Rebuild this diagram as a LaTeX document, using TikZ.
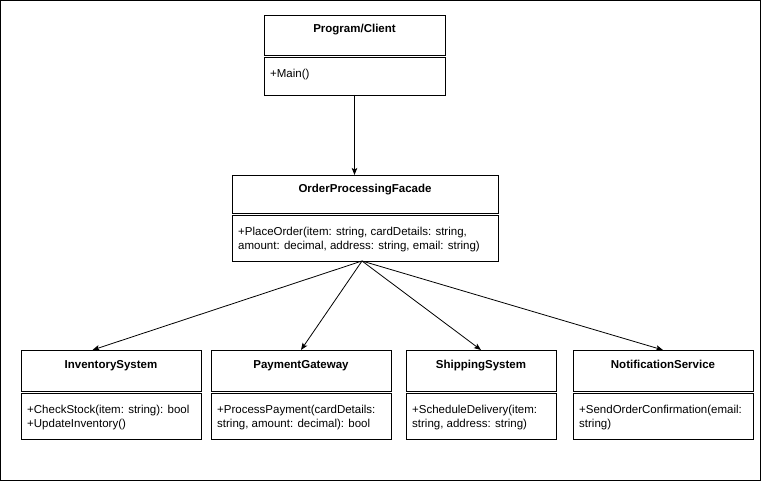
\documentclass[tikz,border=0pt]{standalone}
\usepackage{fontspec}
\setmainfont{Liberation Sans}
\usetikzlibrary{arrows.meta}
% class box: name, x, y, width, head height, body height, title, members
\newcommand{\umlclass}[8]{%
	\node[headbox, minimum width=#4, minimum height=#5] (#1) at (#2,#3) {};
	\node[classtitle] at ([yshift=-18pt]#1.north) {#7};
	\node[bodybox, minimum width=#4, minimum height=#6] (#1body) at ([yshift=-2pt]#1.south west) {};
	\node[member] at ([xshift=6pt, yshift=-11.5pt]#1body.north west) {#8};
}

\begin{document}
\begin{tikzpicture}[x=1pt, y=-1pt,
	 font=\fontsize{11.5}{14}\selectfont,
	 headbox/.style={draw, anchor=north west, inner sep=0pt, outer sep=0pt, line width=0.8pt},
	 bodybox/.style={draw, anchor=north west, inner sep=0pt, outer sep=0pt, line width=0.8pt},
	 classtitle/.style={anchor=base, inner sep=0pt, font=\fontsize{11.5}{14}\selectfont\bfseries},
	 member/.style={anchor=north west, align=left, inner sep=0pt},
	 link/.style={-{Stealth[length=7pt, width=5.5pt, inset=1.5pt]}, line width=0.8pt}]
	    \draw[line width=1pt] (0.5,0.5) rectangle (760.5,480.5);
	    \umlclass{client}{264}{15}{181pt}{40pt}{38pt}{Program/Client}{+Main()}
	    \umlclass{facade}{232}{175}{266pt}{38pt}{46pt}{OrderProcessingFacade}%
	        {+PlaceOrder(item: string, cardDetails: string,\\amount: decimal, address: string, email: string)}
	    \umlclass{inventory}{21}{350}{180pt}{41pt}{46pt}{InventorySystem}%
	        {+CheckStock(item: string): bool\\+UpdateInventory()}
	    \umlclass{payment}{211}{350}{180pt}{41pt}{46pt}{PaymentGateway}%
	        {+ProcessPayment(cardDetails:\\string, amount: decimal): bool}
	    \umlclass{shipping}{406}{350}{150pt}{41pt}{46pt}{ShippingSystem}%
	        {+ScheduleDelivery(item:\\string, address: string)}
	    \umlclass{notification}{573}{350}{180pt}{41pt}{46pt}{NotificationService}%
	        {+SendOrderConfirmation(email:\\string)}
	    % calls
	    \draw[link] (clientbody.south) -- (clientbody.south |- facade.north);
	    \coordinate (fork) at ([xshift=-3pt]facadebody.south);
	    \draw[link] (fork) -- ([xshift=-18.5pt]inventory.north);
	    \draw[link] (fork) -- (payment.north);
	    \draw[link] (fork) -- (shipping.north);
	    \draw[link] (fork) -- (notification.north);
\end{tikzpicture}
\end{document}
